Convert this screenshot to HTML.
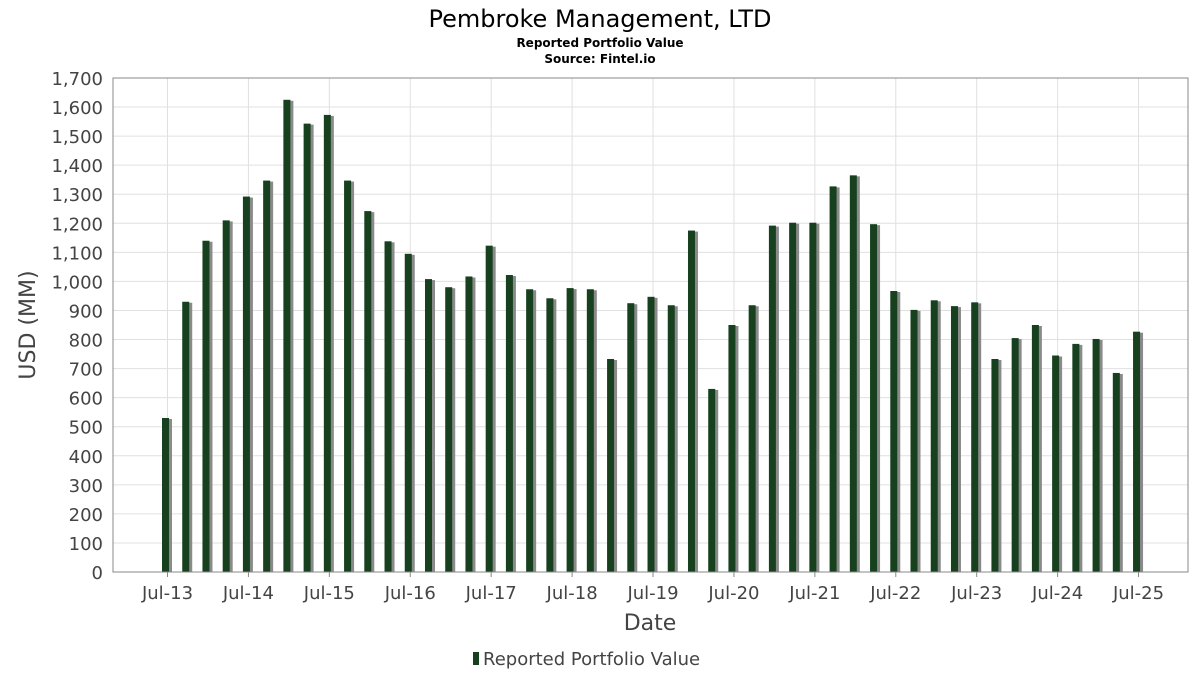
<!DOCTYPE html>
<html><head><meta charset="utf-8"><style>
body{margin:0;background:#fff;font-family:"DejaVu Sans","Liberation Sans",sans-serif;}
</style></head><body>
<svg width="1200" height="675" xmlns="http://www.w3.org/2000/svg">
<text x="600" y="27" text-anchor="middle" font-size="24" fill="#000">Pembroke Management, LTD</text>
<text x="600" y="47" text-anchor="middle" font-size="12" font-weight="bold" fill="#000">Reported Portfolio Value</text>
<text x="600" y="63" text-anchor="middle" font-size="12" font-weight="bold" fill="#000">Source: Fintel.io</text>
<g id="grid"></g>
<g id="bars"></g>
<g id="axes"></g>
<rect x="113" y="78" width="1075" height="494" fill="none" stroke="#888"/>
<text transform="translate(35,325) rotate(-90)" text-anchor="middle" font-size="22" fill="#444">USD (MM)</text>
<text x="650" y="630" text-anchor="middle" font-size="22" fill="#444">Date</text>
<g>
<rect x="473" y="652" width="6" height="13" fill="#17401f"/>
<text x="483" y="665" font-size="18" fill="#444">Reported Portfolio Value</text>
</g>
</svg>
<script>
const values=[530,930,1140,1210,1292,1347,1625,1543,1573,1347,1242,1138,1095,1008,980,1017,1123,1022,973,942,977,973,733,925,947,918,1175,630,850,918,1192,1202,1202,1327,1365,1197,967,902,935,915,928,733,805,850,745,785,802,685,827];
const xLabels=["Jul-13","Jul-14","Jul-15","Jul-16","Jul-17","Jul-18","Jul-19","Jul-20","Jul-21","Jul-22","Jul-23","Jul-24","Jul-25"];
const yTicks=[0,100,200,300,400,500,600,700,800,900,1000,1100,1200,1300,1400,1500,1600,1700];
const NS="http://www.w3.org/2000/svg";
const y=v=>572-v*494/1700;
const xb=i=>162+i*20.23;
const grid=document.getElementById('grid'),bars=document.getElementById('bars'),axes=document.getElementById('axes');
function mk(tag,attrs,parent){const e=document.createElementNS(NS,tag);for(const k in attrs)e.setAttribute(k,attrs[k]);parent.appendChild(e);return e;}
yTicks.forEach(t=>{
 const l=mk('line',{x1:113,x2:1188,y1:y(t),y2:y(t),stroke:'#e0e0e0'},grid);
 
 
 const tx=mk('text',{x:103,y:y(t)+7,'text-anchor':'end','font-size':18,fill:'#444'},axes);
 tx.textContent=t.toLocaleString('en-US');
 
 
});
xLabels.forEach((lab,k)=>{
 const x=xb(k*4)+5.5;
 const l=mk('line',{x1:x,x2:x,y1:78,y2:572,stroke:'#e0e0e0'},grid);
 
 
 const tk=mk('line',{x1:x,x2:x,y1:572,y2:577,stroke:'#888'},axes);
 
 
 const tx=mk('text',{x:x,y:599,'text-anchor':'middle','font-size':18,fill:'#444'},axes);
 tx.textContent=lab;
 
 
});
values.forEach((v,i)=>{
 const s=mk('rect',{x:xb(i)+3,y:y(v)+1,width:7,height:572-y(v)-1,fill:'#8a8a8a'},bars);
 
 
 const b=mk('rect',{x:xb(i),y:y(v),width:7,height:572-y(v),fill:'#17401f'},bars);
 
 
});
</script>
</body></html>
